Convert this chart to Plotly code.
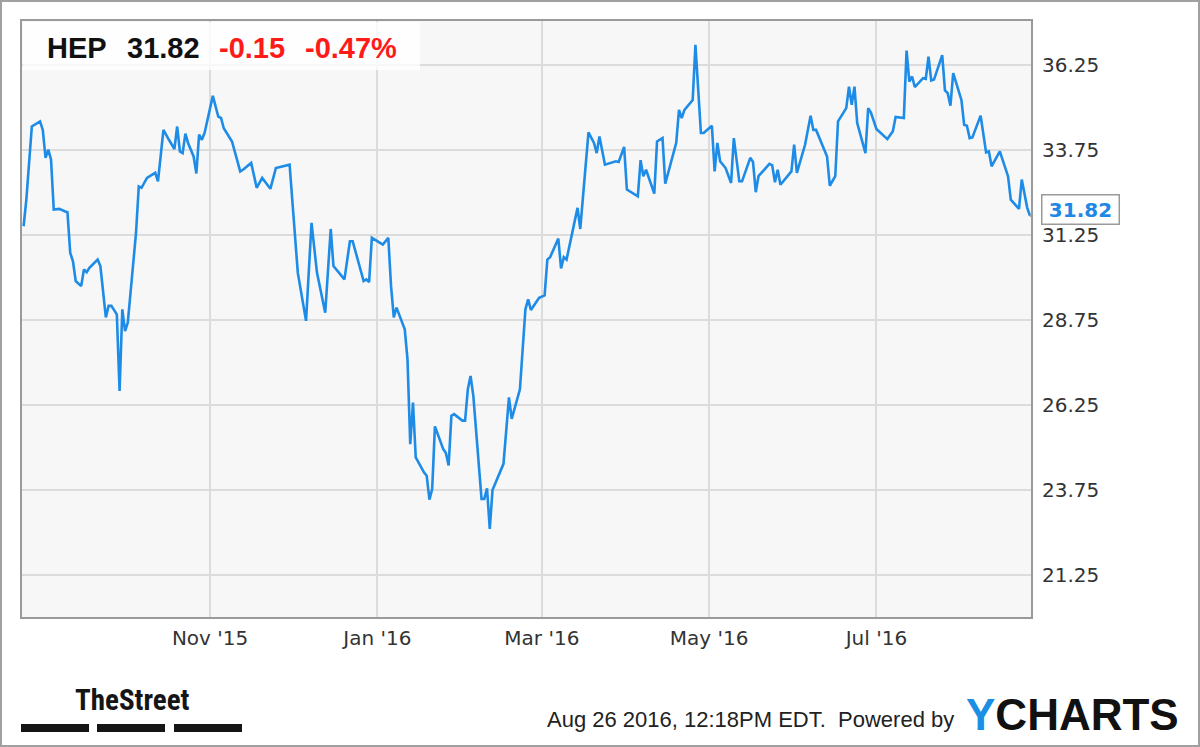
import plotly.graph_objects as go

# ---------------- data ----------------
dates = [
    "2015-08-25", "2015-08-26", "2015-08-28", "2015-08-31", "2015-09-01", "2015-09-02", "2015-09-03",
    "2015-09-04", "2015-09-05", "2015-09-07", "2015-09-09", "2015-09-10", "2015-09-11", "2015-09-12",
    "2015-09-13", "2015-09-15", "2015-09-16", "2015-09-17", "2015-09-18", "2015-09-21", "2015-09-22",
    "2015-09-24", "2015-09-25", "2015-09-26", "2015-09-28", "2015-09-29", "2015-09-30", "2015-10-01",
    "2015-10-02", "2015-10-05", "2015-10-06", "2015-10-07", "2015-10-09", "2015-10-11", "2015-10-12",
    "2015-10-13", "2015-10-15", "2015-10-17", "2015-10-19", "2015-10-20", "2015-10-21", "2015-10-22",
    "2015-10-23", "2015-10-24", "2015-10-26", "2015-10-27", "2015-10-28", "2015-10-29", "2015-10-30",
    "2015-11-02", "2015-11-04", "2015-11-05", "2015-11-06", "2015-11-09", "2015-11-12", "2015-11-13",
    "2015-11-16", "2015-11-18", "2015-11-20", "2015-11-23", "2015-11-25", "2015-11-30",
    "2015-12-03", "2015-12-06", "2015-12-08", "2015-12-10", "2015-12-13", "2015-12-15", "2015-12-16",
    "2015-12-20", "2015-12-22", "2015-12-23", "2015-12-27", "2015-12-28", "2015-12-29", "2015-12-30",
    "2016-01-03", "2016-01-05", "2016-01-06", "2016-01-07", "2016-01-08", "2016-01-11", "2016-01-12",
    "2016-01-13", "2016-01-14", "2016-01-15", "2016-01-18", "2016-01-19", "2016-01-20", "2016-01-21",
    "2016-01-22", "2016-01-25", "2016-01-26", "2016-01-27", "2016-01-28", "2016-01-29", "2016-02-01",
    "2016-02-02", "2016-02-03", "2016-02-04", "2016-02-05", "2016-02-08", "2016-02-09", "2016-02-10",
    "2016-02-11", "2016-02-12", "2016-02-16", "2016-02-18", "2016-02-19", "2016-02-22", "2016-02-24",
    "2016-02-25", "2016-02-26", "2016-02-29", "2016-03-02", "2016-03-03", "2016-03-04", "2016-03-07",
    "2016-03-08", "2016-03-09", "2016-03-10", "2016-03-14", "2016-03-15", "2016-03-18", "2016-03-20",
    "2016-03-21", "2016-03-22", "2016-03-24", "2016-03-28", "2016-03-29", "2016-03-31", "2016-04-01",
    "2016-04-05", "2016-04-06", "2016-04-07", "2016-04-08", "2016-04-11", "2016-04-12", "2016-04-14",
    "2016-04-15", "2016-04-19", "2016-04-20", "2016-04-21", "2016-04-22", "2016-04-25", "2016-04-26",
    "2016-04-28", "2016-04-29", "2016-05-02", "2016-05-03", "2016-05-04", "2016-05-05", "2016-05-07",
    "2016-05-09", "2016-05-10", "2016-05-12", "2016-05-13", "2016-05-16", "2016-05-17", "2016-05-18",
    "2016-05-19", "2016-05-23", "2016-05-24", "2016-05-25", "2016-05-26", "2016-05-27", "2016-05-31",
    "2016-06-01", "2016-06-02", "2016-06-05", "2016-06-07", "2016-06-08", "2016-06-09", "2016-06-13",
    "2016-06-14", "2016-06-16", "2016-06-17", "2016-06-20", "2016-06-21", "2016-06-22", "2016-06-23",
    "2016-06-24", "2016-06-27", "2016-06-28", "2016-06-29", "2016-07-01", "2016-07-05", "2016-07-07",
    "2016-07-08", "2016-07-11", "2016-07-12", "2016-07-13", "2016-07-14", "2016-07-15", "2016-07-18",
    "2016-07-19", "2016-07-20", "2016-07-21", "2016-07-22", "2016-07-25", "2016-07-26", "2016-07-27",
    "2016-07-28", "2016-07-29", "2016-08-01", "2016-08-02", "2016-08-03", "2016-08-04", "2016-08-05",
    "2016-08-08", "2016-08-10", "2016-08-11", "2016-08-12", "2016-08-15", "2016-08-18", "2016-08-19",
    "2016-08-22", "2016-08-23", "2016-08-25", "2016-08-26",
]

prices = [
    31.51, 32.29, 34.44, 34.59, 34.34, 33.52, 33.76,
    33.47, 32.00, 32.02, 31.95, 31.92, 30.73, 30.48,
    29.90, 29.75, 30.24, 30.16, 30.29, 30.53, 30.34,
    28.83, 29.17, 29.17, 28.92, 26.67, 29.07, 28.43,
    28.68, 31.32, 32.68, 32.64, 32.93, 33.03, 33.08,
    32.83, 34.34, 34.05, 33.78, 34.44, 33.71, 33.66,
    34.23, 33.95, 33.56, 33.06, 34.20, 34.05, 34.25,
    35.34, 34.73, 34.69, 34.39, 34.00, 33.12, 33.17,
    33.37, 32.64, 32.93, 32.61, 33.22, 33.32,
    30.14, 28.73, 31.61, 30.14, 28.97, 31.43, 30.34,
    29.95, 31.07, 31.07, 29.90, 29.95, 29.87, 31.17,
    30.97, 31.17, 29.75, 28.83, 29.12, 28.48, 27.60,
    25.11, 26.33, 24.72, 24.28, 24.18, 23.48, 23.79,
    25.63, 24.97, 24.85, 24.48, 25.94, 25.99, 25.80,
    25.80, 26.72, 27.11, 26.53, 23.50, 23.50, 23.81,
    22.62, 23.76, 24.53, 26.48, 25.85, 26.72, 29.07,
    29.36, 29.05, 29.41, 29.48, 30.53, 30.60, 31.15,
    30.27, 30.60, 30.53, 32.05, 31.43, 34.27, 33.96,
    33.66, 34.15, 33.32, 33.42, 33.40, 33.84, 32.59,
    32.39, 33.45, 32.98, 33.17, 32.47, 34.00, 34.10,
    32.76, 33.96, 34.93, 34.69, 34.93, 35.22, 36.84,
    34.25, 34.25, 34.46, 33.12, 33.96, 33.42, 33.22,
    32.78, 34.10, 32.83, 32.83, 33.52, 33.40, 32.51,
    32.98, 33.34, 33.30, 32.80, 33.17, 32.73, 33.12,
    33.91, 33.08, 33.91, 34.76, 34.34, 34.34, 33.56,
    32.70, 32.98, 34.59, 34.98, 35.61, 35.08, 35.61,
    34.54, 33.66, 34.98, 34.85, 34.37, 34.07, 34.30,
    34.72, 34.69, 36.67, 35.76, 35.91, 35.60, 35.86,
    35.84, 36.49, 35.79, 35.82, 36.54, 35.50, 35.42,
    35.05, 36.01, 35.22, 34.49, 34.46, 34.10, 34.12,
    34.76, 33.68, 33.71, 33.27, 33.71, 32.98, 32.29,
    32.02, 32.88, 32.05, 31.82,
]

ticker = "HEP"
last_price = "31.82"
change = "-0.15"
change_pct = "-0.47%"

y_tick_vals = [21.25, 23.75, 26.25, 28.75, 31.25, 33.75, 36.25]
y_tick_text = ["21.25", "23.75", "26.25", "28.75", "31.25", "33.75", "36.25"]
x_tick_vals = ["2015-11-01", "2016-01-01", "2016-03-01", "2016-05-01", "2016-07-01"]
x_tick_text = ["Nov '15", "Jan '16", "Mar '16", "May '16", "Jul '16"]

timestamp_text = "Aug 26 2016, 12:18PM EDT.  Powered by"

# ---------------- layout geometry (pixels) ----------------
W, H = 1200, 747
L, R, T, B = 22, 1031, 21, 617
LINE_BLUE = "rgb(30,140,230)"


def pxx(px):
    return (px - L) / (R - L)


def pxy(py):
    return (B - py) / (B - T)


fig = go.Figure()
fig.add_trace(go.Scatter(
    x=dates, y=prices, mode="lines",
    line=dict(color=LINE_BLUE, width=2.6),
    hoverinfo="x+y", showlegend=False,
))

axis_font = dict(family="DejaVu Sans, Arial, sans-serif", size=20, color="#333333")

fig.update_layout(
    width=W, height=H,
    margin=dict(l=L, r=W - R, t=T, b=H - B, pad=0),
    paper_bgcolor="white",
    plot_bgcolor="#f7f7f7",
    xaxis=dict(
        type="date",
        range=["2015-08-24 10:00", "2016-08-26 09:00"],
        tickvals=x_tick_vals, ticktext=x_tick_text,
        showgrid=True, gridcolor="#dcdcdc", gridwidth=1.5,
        showline=True, linecolor="#9a9a9a", linewidth=2, mirror=True,
        ticks="", ticklabelstandoff=2,
        tickfont=axis_font, zeroline=False, fixedrange=True,
    ),
    yaxis=dict(
        side="right",
        range=[20.03, 37.54],
        tickvals=y_tick_vals, ticktext=y_tick_text,
        showgrid=True, gridcolor="#dcdcdc", gridwidth=1.5,
        showline=True, linecolor="#9a9a9a", linewidth=2, mirror=True,
        ticks="", ticklabelstandoff=5,
        tickfont=axis_font, zeroline=False, fixedrange=True,
    ),
)

shapes = []
# outer frame of the image
shapes.append(dict(type="rect", xref="paper", yref="paper",
                   x0=pxx(1), x1=pxx(1199), y0=pxy(746), y1=pxy(1),
                   line=dict(color="#a0a0a0", width=2), fillcolor="rgba(0,0,0,0)", layer="above"))
# header box (semi-transparent white)
shapes.append(dict(type="rect", xref="paper", yref="paper",
                   x0=pxx(L + 1), x1=pxx(420), y0=pxy(70), y1=pxy(T + 1),
                   line=dict(width=0), fillcolor="rgba(255,255,255,0.8)", layer="above"))
# TheStreet bars
for x0, x1 in [(21, 89), (97, 165), (174, 242)]:
    shapes.append(dict(type="rect", xref="paper", yref="paper",
                       x0=pxx(x0), x1=pxx(x1), y0=pxy(732), y1=pxy(724),
                       line=dict(width=0), fillcolor="#151515", layer="above"))
# callout pointer anchored at the last data point
shapes.append(dict(type="path", xref="x", yref="y",
                   xsizemode="pixel", ysizemode="pixel",
                   xanchor=dates[-1], yanchor=prices[-1],
                   path="M 0 0 L 12 12 L 12 -8 Z",
                   line=dict(color="#9a9a9a", width=1.5), fillcolor="white", layer="above"))
fig.update_layout(shapes=shapes)

hdr_font_b = dict(family="Liberation Sans, Arial, sans-serif", size=29, color="#111111")
hdr_font_r = dict(family="Liberation Sans, Arial, sans-serif", size=29, color="#ff1a1a")

ann = [
    dict(x=pxx(45), y=pxy(48), text=f"<b>{ticker}</b>", font=hdr_font_b),
    dict(x=pxx(125), y=pxy(48), text=f"<b>{last_price}</b>", font=hdr_font_b),
    dict(x=pxx(217), y=pxy(48), text=f"<b>{change}</b>", font=hdr_font_r),
    dict(x=pxx(303), y=pxy(48), text=f"<b>{change_pct}</b>", font=hdr_font_r),
    dict(x=pxx(73), y=pxy(700), text="<b>TheStreet</b>",
         font=dict(family="Liberation Sans Narrow, Arial Narrow, Roboto Condensed, sans-serif",
                   size=29, color="#151515")),
    dict(x=pxx(956), y=pxy(719), text=timestamp_text, xanchor="right",
         font=dict(family="Liberation Sans, Arial, sans-serif", size=22, color="#222222")),
    dict(x=pxx(964), y=pxy(714),
         text="<b><span style='color:#1a8fe3'>Y</span>CHARTS</b>",
         font=dict(family="Liberation Sans, Arial, sans-serif", size=44, color="#111111")),
]
for a in ann:
    a.setdefault("xanchor", "left")
    a.update(xref="paper", yref="paper", yanchor="middle", showarrow=False)

# last-value callout box
ann.append(dict(
    x=dates[-1], y=prices[-1], xref="x", yref="y",
    xanchor="left", yanchor="middle", xshift=11, yshift=6,
    text=f"<b>{prices[-1]:.2f}</b>", showarrow=False,
    width=72, height=24, align="center",
    bgcolor="white", bordercolor="#9a9a9a", borderwidth=1.5, borderpad=2,
    font=dict(family="DejaVu Sans, Arial, sans-serif", size=20, color="#1e88e5"),
))
fig.update_layout(annotations=ann)

fig.write_html(
    "out.html",
    config={"displayModeBar": False},
    post_script="document.body.style.margin='0';document.body.style.overflow='hidden';",
)
